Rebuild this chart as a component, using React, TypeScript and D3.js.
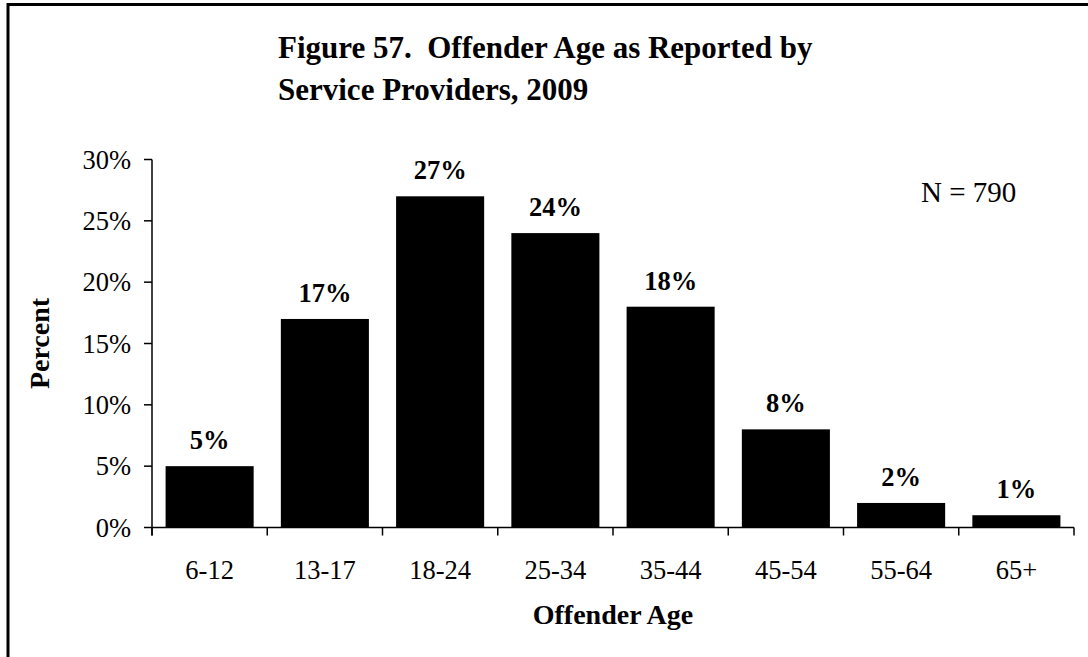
import React from "react";
import * as d3 from "d3";

const categories = ["6-12", "13-17", "18-24", "25-34", "35-44", "45-54", "55-64", "65+"];
const percents = [5, 17, 27, 24, 18, 8, 2, 1];
const yTicks = [0, 5, 10, 15, 20, 25, 30];
const titleLines = ["Figure 57.  Offender Age as Reported by", "Service Providers, 2009"];
const noteText = "N = 790";
const xTitle = "Offender Age";
const yTitle = "Percent";

const W = 1088;
const H = 657;
const FONT = "'Liberation Serif', 'Times New Roman', Times, serif";

export default function App() {
  const left = 152;
  const right = 1074;
  const top = 159.5;
  const bottom = 527.5;

  const x = d3.scaleBand<string>().domain(categories).range([left, right]).paddingInner(0.236).paddingOuter(0.118);
  const y = d3.scaleLinear().domain([0, 30]).range([bottom, top]);
  const step = x.step();
  const boundaries = d3.range(categories.length + 1).map((i) => left + i * step);

  return (
    <svg width={W} height={H} style={{ position: "absolute", left: 0, top: 0, background: "#fff" }} fontFamily={FONT}>
      <rect x={0} y={0} width={W} height={H} fill="#fff" />
      <rect x={8} y={4.5} width={1200} height={800} fill="none" stroke="#000" strokeWidth={3} />
      <text fontSize={31} fontWeight="bold" style={{ whiteSpace: "pre" }}>
        <tspan x={278} y={58}>{titleLines[0]}</tspan>
        <tspan x={278} y={100}>{titleLines[1]}</tspan>
      </text>
      {/* bars */}
      {categories.map((c, i) => (
        <rect key={c} x={x(c)} y={y(percents[i])} width={x.bandwidth()} height={y(0) - y(percents[i])} fill="#000" />
      ))}
      {/* bar labels */}
      {categories.map((c, i) => (
        <text key={c + "l"} x={(x(c) as number) + x.bandwidth() / 2} y={y(percents[i]) - 17} textAnchor="middle" fontSize={26.5} fontWeight="bold">
          {percents[i] + "%"}
        </text>
      ))}
      {/* y axis */}
      <line x1={left} x2={left} y1={top} y2={bottom + 8} stroke="#000" strokeWidth={1.5} />
      {yTicks.map((t) => (
        <g key={t}>
          <line x1={left - 8} x2={left} y1={y(t)} y2={y(t)} stroke="#000" strokeWidth={1.5} />
          <text x={131} y={y(t)} dy="0.35em" textAnchor="end" fontSize={26.5}>
            {t + "%"}
          </text>
        </g>
      ))}
      {/* x axis */}
      <line x1={left} x2={right} y1={bottom} y2={bottom} stroke="#000" strokeWidth={1.5} />
      {boundaries.map((b, i) => (
        <line key={i} x1={b} x2={b} y1={bottom} y2={bottom + 8} stroke="#000" strokeWidth={1.5} />
      ))}
      {categories.map((c) => (
        <text key={c + "t"} x={(x(c) as number) + x.bandwidth() / 2} y={578.5} textAnchor="middle" fontSize={26.5}>
          {c}
        </text>
      ))}
      <text x={(left + right) / 2} y={624} textAnchor="middle" fontSize={28} fontWeight="bold">
        {xTitle}
      </text>
      <text transform={`translate(49, ${(top + bottom) / 2}) rotate(-90)`} textAnchor="middle" fontSize={28} fontWeight="bold">
        {yTitle}
      </text>
      <text x={921} y={201.5} fontSize={29}>
        {noteText}
      </text>
    </svg>
  );
}
